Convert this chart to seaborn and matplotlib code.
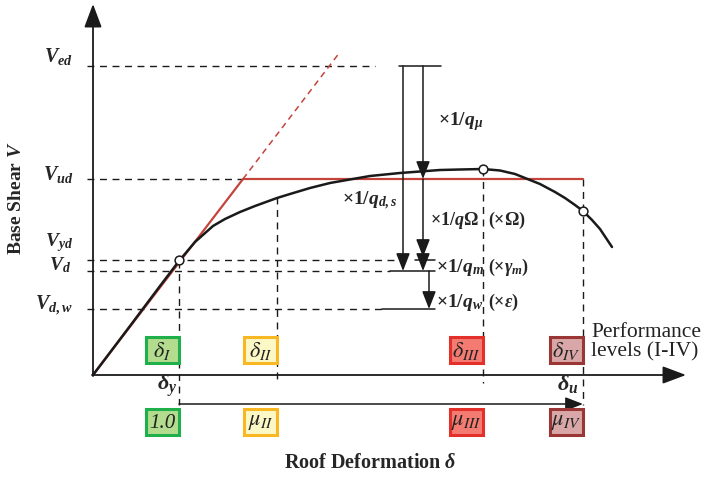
import numpy as np
import pandas as pd
import seaborn as sns
import matplotlib
matplotlib.use("Agg")
import matplotlib.pyplot as plt
from matplotlib.patches import Rectangle

# ---------------- data (schematic units: origin = 0,0) ----------------
curve_delta = [0, 37, 67, 86, 102, 120, 132, 147, 162, 184, 197, 217, 237, 254, 277, 307, 347, 367,
               390, 407, 422, 432, 447, 462, 472, 482, 490, 499, 507, 519]
curve_V     = [0, 49, 89, 114, 133, 149, 156, 163, 169, 177, 181, 187, 192, 195, 199, 202, 205, 205.5,
               206, 204.5, 201, 197, 191, 183, 177, 170, 164, 155, 146, 128]

bilin_delta = [0, 150, 490]
bilin_V     = [0, 196, 196]
elastic_ext_delta = [150, 247]
elastic_ext_V     = [196, 323]

delta_levels = [86, 184, 390, 490]          # delta_y(I), II, III, IV(u)
delta_curveV = [114, 178, 206, 164]         # curve value at the levels
V_ed, V_ud, V_yd, V_d, V_dw = 309, 196, 115, 104, 66

marker_delta = [86, 390, 490]
marker_V     = [115, 206, 164]

top_labels = [r"$\delta_{I}$", r"$\delta_{II}$", r"$\delta_{III}$", r"$\delta_{IV}$"]
bot_labels = ["1.0", r"$\mu_{II}$", r"$\mu_{III}$", r"$\mu_{IV}$"]
box_fill = ["#b4dc8e", "#fbf8c6", "#f47b71", "#d9a7a7"]
box_edge = ["#1faf4b", "#f9b823", "#e3302b", "#9a3636"]

# ---------------- style ----------------
sns.set_theme(style="white")
plt.rcParams["font.family"] = ["Liberation Serif", "DejaVu Serif"]
plt.rcParams["mathtext.fontset"] = "custom"
plt.rcParams["mathtext.rm"] = "Liberation Serif:bold"
plt.rcParams["mathtext.it"] = "Liberation Serif:italic:bold"
plt.rcParams["mathtext.bf"] = "Liberation Serif:bold"

fig = plt.figure(figsize=(7.05, 4.78), dpi=100)
ax = fig.add_axes([0, 0, 1, 1])
ax.set_xlim(-93, 612)
ax.set_ylim(-103, 375)
ax.axis("off")

def P(px, py):
    return px - 93, 375 - py

RED = "#c4443c"
dash = dict(color="k", lw=1.0, ls=(0, (5, 4)))

# axes with arrows
ax.annotate("", xy=P(93, 4), xytext=P(93, 376),
            arrowprops=dict(arrowstyle="-|>,head_length=1.2,head_width=0.45", color="k", lw=1.3,
                            shrinkA=0, shrinkB=0))
ax.annotate("", xy=P(686, 375), xytext=P(92, 375),
            arrowprops=dict(arrowstyle="-|>,head_length=1.2,head_width=0.45", color="k", lw=1.3,
                            shrinkA=0, shrinkB=0))

# horizontal dashed reference lines
ax.plot([-6, 282], [V_ed, V_ed], **dash)
ax.plot([-6, bilin_delta[1]], [V_ud, V_ud], **dash)
ax.plot([-6, 302], [V_yd, V_yd], **dash)
ax.plot([-6, 297], [V_d, V_d], **dash)
ax.plot([-6, 289], [V_dw, V_dw], **dash)

# vertical dashed level lines
ax.plot([delta_levels[0]] * 2, [delta_curveV[0], -30], **dash)
ax.plot([delta_levels[1]] * 2, [delta_curveV[1], -5], **dash)
ax.plot([delta_levels[2]] * 2, [delta_curveV[2], -8], **dash)
ax.plot([delta_levels[3]] * 2, [V_ud, -30], **dash)

# bilinear idealisation
sns.lineplot(x=bilin_delta, y=bilin_V, sort=False, color=RED, lw=1.6, ax=ax, estimator=None)
ax.plot(elastic_ext_delta, elastic_ext_V, color=RED, lw=1.1, ls=(0, (4, 3)))

# capacity curve
sns.lineplot(x=curve_delta, y=curve_V, sort=False, color="k", lw=1.8, ax=ax, estimator=None)
ax.scatter(marker_delta, marker_V, s=40, facecolor="white", edgecolor="k", lw=1.1, zorder=5)

# solid short lines near arrows
ax.plot([306, 348], [V_ed, V_ed], color="k", lw=1.1)
ax.plot([322, 342], [V_yd, V_yd], color="k", lw=1.1)
ax.plot([297, 342], [V_d, V_d], color="k", lw=1.1)
ax.plot([289, 342], [V_dw, V_dw], color="k", lw=1.1)

arr = dict(arrowstyle="-|>,head_length=0.9,head_width=0.35", color="k", lw=1.1,
           shrinkA=0, shrinkB=0, mutation_scale=12)
ax.annotate("", xy=(310, V_d), xytext=(310, V_ed), arrowprops=arr)
ax.annotate("", xy=(330, V_ud), xytext=(330, V_ed), arrowprops=arr)
ax.annotate("", xy=(330, V_yd + 3), xytext=(330, V_ud), arrowprops=arr)
ax.annotate("", xy=(330, V_d), xytext=(330, V_yd), arrowprops=arr)
ax.annotate("", xy=(336, V_dw), xytext=(336, V_d), arrowprops=arr)

# ductility arrow
ax.annotate("", xy=(delta_levels[3], -29), xytext=(delta_levels[0], -29), arrowprops=arr)

# performance level boxes
for i, d in enumerate(delta_levels):
    for (y0, lab) in [(12, top_labels[i]), (-60, bot_labels[i])]:
        ax.add_patch(Rectangle((d - 33, y0), 33, 26, facecolor=box_fill[i], edgecolor=box_edge[i],
                               lw=2.2, zorder=4))
        if lab.startswith("$"):
            ax.text(d - 16.5, y0 + 12, lab, ha="center", va="center", fontsize=16,
                    math_fontfamily="stix", zorder=6, color="#222222")
        else:
            ax.text(d - 16.5, y0 + 12, lab, ha="center", va="center", fontsize=15,
                    style="italic", zorder=6, color="#222222")

# value labels on the V axis
vlabels = [(r"$V_{ed}$", 62, 73, 14.5), (r"$V_{ud}$", 180, 73, 14.5), (r"$V_{yd}$", 246, 73, 14),
           (r"$V_{d}$", 270, 71, 14), (r"$V_{d,w}$", 310, 73, 14.5)]
for lab, by, rx, fs in vlabels:
    ax.text(*P(rx, by), lab, ha="right", va="baseline", fontsize=fs)

# factor annotations
ftxt = [(r"$\times 1/q_{\mu}$", 438, 125, 14), (r"$\times 1/q_{d,s}$", 342, 205, 14),
        (r"$\times 1/q\Omega$", 430, 225, 13), (r"$(\times\Omega)$", 488, 225, 13),
        (r"$\times 1/q_{m}$", 436, 272, 14), (r"$(\times\gamma_{m})$", 488, 272, 13),
        (r"$\times 1/q_{w}$", 436, 307, 14), (r"$(\times\varepsilon)$", 488, 307, 13)]
for lab, px, py, fs in ftxt:
    ax.text(*P(px, py), lab, ha="left", va="baseline", fontsize=fs)

ax.text(*P(177, 390), r"$\delta_{y}$", ha="right", va="baseline", fontsize=16)
ax.text(*P(579, 390), r"$\delta_{u}$", ha="right", va="baseline", fontsize=16)

ax.text(*P(591, 337), "Performance", ha="left", va="baseline", fontsize=15.5, color="#222222")
ax.text(*P(591, 356), "levels (I-IV)", ha="left", va="baseline", fontsize=15.5, color="#222222")

ax.text(*P(17, 198), r"Base Shear $V$", rotation=90, ha="center", va="center",
        fontsize=14, fontweight="bold")
ax.text(*P(370, 463), r"Roof Deformation $\delta$", ha="center", va="center",
        fontsize=14.5, fontweight="bold")

fig.savefig("out.png", dpi=100)
